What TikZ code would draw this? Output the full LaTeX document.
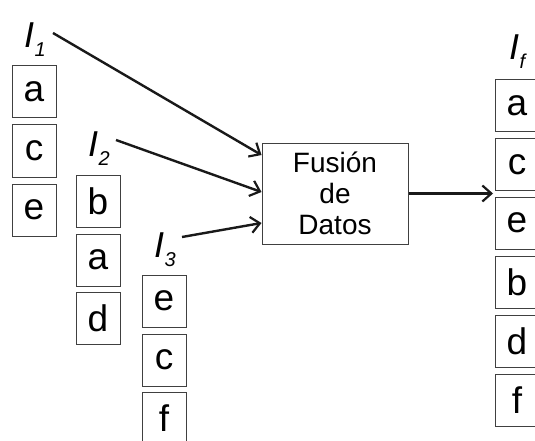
\documentclass[tikz,border=0pt]{standalone}
\usepackage{fontspec}
\setmainfont{Liberation Sans}
\usetikzlibrary{arrows.meta}
% list name with a small lowered index
\newcommand\listname[1]{I\kern0.5pt\raisebox{-9pt}{\fontsize{20}{20}\selectfont #1}}
\begin{document}
\begin{tikzpicture}[x=1pt,y=-1pt,
  item/.style={draw=black!75,line width=1pt,minimum width=44pt,minimum height=52pt,
    inner sep=0pt,font=\fontsize{37}{40}\selectfont},
  lab/.style={inner sep=0pt,anchor=base west,font=\fontsize{36}{40}\selectfont\itshape},
  link/.style={line width=2.4pt,draw=black!90,
    -{Straight Barb[length=9pt,width=16pt,line width=2.2pt]}}]
\clip (0,0) rectangle (535,441);

% input lists
\node[lab] (l1) at (24,48) {\listname{1}};
\node[item] (a1) at (34,92) {a};
\node[item] (c1) at (34,151) {c};
\node[item] (e1) at (34,210) {e};

\node[lab] (l2) at (88,157) {\listname{2}};
\node[item] (b2) at (98,201) {b};
\node[item] (a2) at (98,260) {a};
\node[item] (d2) at (98,318.5) {d};

\node[lab] (l3) at (154,257) {\listname{3}};
\node[item] (e3) at (164,301) {e};
\node[item] (c3) at (164,360) {c};
\node[item] (f3) at (164,418) {f};

% fusion block
\node[draw=black!75,line width=1pt,minimum width=146pt,minimum height=101pt,
  align=center,font=\fontsize{28}{31}\selectfont] (fus) at (335,193.5) {Fusión\\de\\Datos};

% fused list
\node[lab] (lf) at (509,60) {\listname{f}};
\node[item] (af) at (517,105.5) {a};
\node[item] (cf) at (517,164.5) {c};
\node[item] (ef) at (517,223) {e};
\node[item] (bf) at (517,282.5) {b};
\node[item] (df) at (517,341.5) {d};
\node[item] (ff) at (517,400) {f};

% connectors
\coordinate (s1) at (53,33);
\coordinate (s2) at (116,140);
\coordinate (s3) at (182,237);
\draw[link] (s1) -- ([yshift=38.5pt]fus.west);
\draw[link] (s2) -- ([yshift=1.5pt]fus.west);
\draw[link] (s3) -- ([yshift=-29.5pt]fus.west);
\draw[link,shorten >=1.5pt] (fus.east) -- (fus.east -| cf.west);
\end{tikzpicture}
\end{document}
